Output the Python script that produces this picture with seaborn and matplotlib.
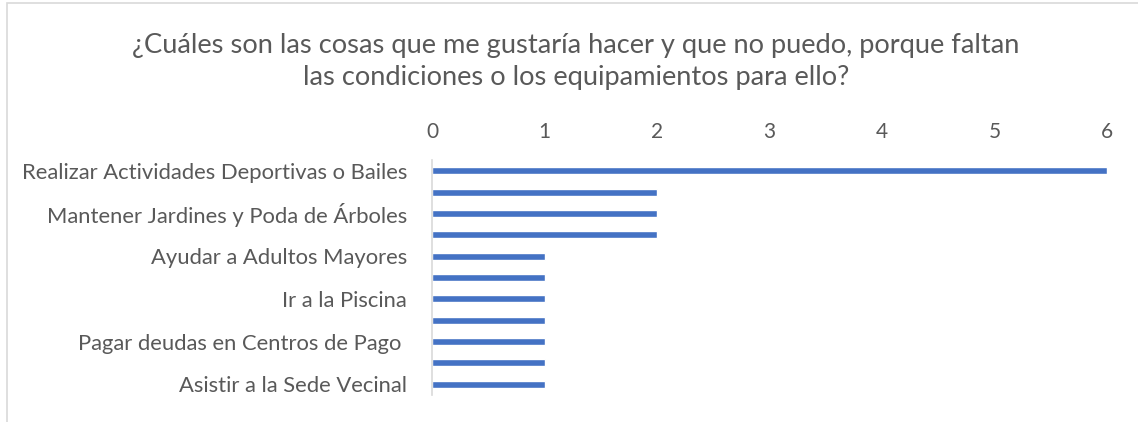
import matplotlib
matplotlib.use('Agg')
import matplotlib.pyplot as plt
import seaborn as sns
import pandas as pd
from matplotlib.patches import Rectangle

# ── Data ──────────────────────────────────────────────────────────────────────
categorias = [
    'Realizar Actividades Deportivas o Bailes',
    'Categoría 2',
    'Mantener Jardines y Poda de Árboles',
    'Categoría 4',
    'Ayudar a Adultos Mayores',
    'Categoría 6',
    'Ir a la Piscina',
    'Categoría 8',
    'Pagar deudas en Centros de Pago ',
    'Categoría 10',
    'Asistir a la Sede Vecinal',
]
valores = [6, 2, 2, 2, 1, 1, 1, 1, 1, 1, 1]
# Excel only shows every second label
etiquetas = [c if i % 2 == 0 else '' for i, c in enumerate(categorias)]
ticks_x = [0, 1, 2, 3, 4, 5, 6]

titulo = ('¿Cuáles son las cosas que me gustaría hacer y que no puedo, porque faltan\n'
          'las condiciones o los equipamientos para ello?')

df = pd.DataFrame({'Categoria': categorias, 'Valor': valores})

# ── Plot ──────────────────────────────────────────────────────────────────────
sns.set_style('white')
plt.rcParams['font.family'] = ['Lato', 'DejaVu Sans']
gris = '#595959'

fig = plt.figure(figsize=(11.38, 4.22), dpi=100)
ax = fig.add_axes([432 / 1138, 1 - 395 / 422, (1107 - 432) / 1138, (395 - 160) / 422])

sns.barplot(data=df, x='Valor', y='Categoria', orient='h', color='#4472C4',
            width=0.33, saturation=1, ax=ax)

ax.set_xlim(0, 6)
ax.set_xticks(ticks_x)
ax.xaxis.tick_top()
ax.tick_params(axis='x', length=0, labelsize=15, labelcolor=gris, pad=13)
ax.set_yticks(range(len(categorias)))
ax.set_yticklabels(etiquetas)
ax.tick_params(axis='y', length=0, labelsize=15.8, labelcolor=gris, pad=18)
ax.set_xlabel('')
ax.set_ylabel('')
for s in ['top', 'right', 'bottom']:
    ax.spines[s].set_visible(False)
ax.spines['left'].set_color('#d9d9d9')
ax.spines['left'].set_linewidth(1.2)

fig.text(576 / 1138, 1 - 62 / 422, titulo, ha='center', va='center',
         fontsize=19.6, color=gris, linespacing=1.35)

# chart area border (only top and left are visible in the crop)
fig.patches.append(Rectangle((7 / 1138, -0.1), 1.2, 1 - 3 / 422 + 0.1,
                             transform=fig.transFigure, fill=False,
                             edgecolor='#d9d9d9', linewidth=1.2))

plt.savefig('out.png', dpi=100)
plt.close()
